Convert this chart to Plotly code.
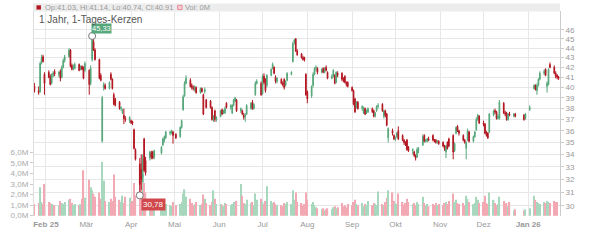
import math
import pandas as pd
import plotly.graph_objects as go

# ---------------- data ----------------
holidays = ["2025-04-18", "2025-04-21", "2025-05-01", "2025-12-24",
            "2025-12-25", "2025-12-26", "2025-12-31", "2026-01-01"]
dates = [d for d in pd.bdate_range("2025-01-24", "2026-01-22")
         if d.strftime("%Y-%m-%d") not in holidays]

opens = [
    40.15,
    39.7, 39.6, 42.5, 43.1, 41.3,
    41.5, 41.1, 40.4, 41.2, 41.6,
    41.3, 41.6, 41.0, 42.0, 42.7,
    43.1, 43.8, 42.2, 41.9, 41.9,
    42.3, 41.8, 42.1, 42.0, 41.7,
    41.7, 40.4, 42.8, 44.7, 43.8,
    42.8, 41.2, 35.1, 40.0, 40.2,
    39.9, 41.3, 40.8, 39.3, 38.9,
    38.6, 38.0, 37.6, 37.4, 37.1,
    36.9, 36.9, 36.8, 36.1, 34.4,
    33.2, 32.8, 32.2, 35.3, 33.5,
    33.7, 34.1, 34.2, 33.8,
    34.1, 34.8, 35.2, 35.4,
    35.8, 35.9, 35.9, 35.7,
    35.5, 36.3, 37.9, 39.2, 40.4,
    40.7, 40.2, 40.0, 39.8, 40.0,
    39.5, 39.9, 39.3, 39.6, 38.8,
    38.7, 38.1, 37.1, 37.8, 37.0,
    37.3, 37.9, 37.6, 37.6, 38.5,
    38.1, 37.6, 38.3, 38.7, 38.8,
    37.8, 37.8, 37.4, 37.3, 37.5,
    38.0, 38.6, 38.0, 39.3, 40.4,
    40.4, 39.4, 41.1, 40.8, 40.2,
    41.2, 41.9, 42.0, 41.0, 40.6,
    40.8, 40.4, 40.8, 40.2, 40.7,
    41.3, 42.6, 44.6, 45.0, 43.7,
    43.4, 43.0, 43.0, 41.3, 39.6,
    39.2, 40.2, 41.3, 41.9, 41.9,
    41.5, 41.9, 41.5, 42.0, 41.5,
    40.9, 41.1, 41.2, 40.5, 41.4,
    41.4, 40.8, 41.1, 40.5, 40.5,
    40.0, 39.7, 38.9, 38.2, 38.6,
    38.0, 37.6, 38.0, 37.6, 37.7,
    38.0, 37.8, 37.3, 37.8, 38.2,
    38.4, 37.3, 37.8, 37.5, 35.4,
    36.0, 35.6, 35.3, 35.5, 36.0,
    35.6, 35.2, 35.0, 35.2, 34.6,
    34.3, 34.2, 33.9, 33.8, 34.4,
    34.8, 35.6, 35.1, 35.1, 35.3,
    35.6, 35.2, 35.2, 35.0, 35.1,
    35.0, 34.7, 34.2, 35.0, 35.3,
    35.6, 34.3, 35.8, 36.4, 36.0,
    35.6, 35.2, 34.5, 35.2, 35.9,
    35.1, 35.5, 36.1, 37.0, 37.3,
    36.7, 36.6, 35.8, 35.8, 35.9,
    37.4, 37.8, 37.7, 37.1, 37.1,
    38.5, 37.6, 37.6, 37.0, 37.5,
    37.3, 37.5,
    37.4, 37.1, 37.9,
    39.9, 40.2, 39.7, 40.2, 40.8,
    41.4, 41.8, 40.1, 40.3, 42.3,
    42.0, 41.4, 41.2, 41.03,
]
highs = [
    40.45,
    40.1, 42.6, 43.3, 43.3, 41.5,
    41.7, 41.3, 41.4, 41.6, 41.8,
    41.6, 41.8, 42.2, 42.9, 43.3,
    44.0, 43.9, 42.4, 42.3, 42.5,
    42.4, 42.2, 42.2, 42.1, 42.6,
    41.8, 42.2, 45.33, 45.0, 44.0,
    42.9, 41.4, 39.2, 40.5, 40.4,
    40.6, 41.5, 40.9, 39.5, 39.0,
    38.7, 38.2, 38.0, 38.0, 37.3,
    37.3, 37.0, 36.9, 36.2, 34.5,
    33.7, 34.0, 34.0, 35.4, 33.8,
    34.3, 34.3, 34.3, 34.4,
    34.7, 35.4, 35.6, 36.0,
    36.0, 36.1, 36.0, 35.8,
    36.4, 37.0, 39.3, 40.6, 41.2,
    40.9, 40.4, 40.2, 40.2, 40.1,
    40.0, 40.0, 39.4, 40.0, 38.9,
    38.8, 38.2, 37.4, 37.9, 37.3,
    37.9, 38.0, 37.9, 38.2, 38.6,
    38.4, 38.4, 38.9, 39.1, 38.9,
    38.1, 37.9, 37.6, 37.6, 38.4,
    38.6, 38.8, 38.5, 40.6, 40.8,
    40.6, 41.3, 41.4, 40.9, 41.3,
    41.9, 42.5, 42.1, 41.2, 41.0,
    40.9, 40.6, 40.9, 40.7, 41.5,
    41.6, 44.7, 45.0, 45.1, 43.9,
    43.5, 43.2, 43.1, 41.4, 39.7,
    40.2, 41.5, 42.0, 42.2, 42.0,
    41.9, 42.0, 42.0, 42.2, 41.6,
    41.3, 41.8, 41.3, 41.6, 41.6,
    41.5, 41.0, 41.2, 40.6, 40.6,
    40.1, 39.8, 39.0, 38.7, 38.7,
    38.3, 38.2, 38.1, 37.9, 38.1,
    38.1, 37.9, 37.7, 38.3, 38.5,
    38.5, 37.9, 37.9, 37.6, 36.3,
    36.2, 35.7, 35.5, 35.9, 36.4,
    35.7, 35.3, 35.1, 35.3, 34.7,
    34.5, 34.3, 34.0, 34.6, 34.6,
    35.7, 35.7, 35.3, 35.4, 35.5,
    35.7, 35.3, 35.3, 35.2, 35.2,
    35.1, 34.8, 34.8, 35.1, 35.4,
    35.7, 35.0, 36.4, 36.5, 36.1,
    35.7, 35.3, 35.1, 36.2, 36.0,
    35.6, 36.0, 37.2, 37.5, 37.4,
    36.9, 36.7, 36.0, 35.9, 37.6,
    37.9, 38.0, 37.8, 37.5, 38.8,
    38.6, 37.8, 37.7, 37.6, 37.7,
    37.6, 37.6,
    37.5, 37.6, 38.3,
    40.3, 40.3, 40.4, 40.9, 41.6,
    41.8, 41.9, 40.6, 41.9, 42.5,
    42.2, 41.6, 41.3, 41.14,
]
lows = [
    39.5,
    39.3, 39.5, 42.3, 42.5, 39.3,
    40.9, 40.2, 40.3, 41.0, 41.1,
    41.0, 40.6, 40.9, 41.9, 42.5,
    43.0, 42.0, 41.7, 41.7, 41.8,
    41.6, 41.7, 41.7, 40.8, 41.5,
    39.3, 40.2, 42.6, 43.7, 42.7,
    40.8, 40.6, 35.0, 39.7, 39.8,
    39.8, 40.7, 39.8, 38.3, 38.2,
    37.9, 37.8, 37.5, 36.6, 36.8,
    36.7, 36.6, 36.5, 34.4, 33.5,
    30.78, 31.2, 31.8, 32.6, 32.3,
    33.5, 33.6, 33.6, 33.6,
    34.0, 34.7, 35.0, 35.3,
    35.6, 35.7, 34.9, 35.3,
    35.4, 36.2, 37.8, 39.1, 40.3,
    40.0, 39.8, 39.7, 39.6, 39.4,
    39.4, 39.5, 37.4, 39.4, 38.0,
    38.0, 36.9, 36.8, 36.8, 36.8,
    37.2, 37.4, 37.5, 37.5, 38.0,
    37.9, 37.5, 38.2, 38.6, 37.7,
    37.6, 37.4, 37.0, 36.8, 37.4,
    37.9, 37.9, 37.9, 39.2, 40.3,
    39.2, 39.3, 40.3, 39.5, 40.0,
    41.1, 41.8, 41.3, 40.4, 40.4,
    40.3, 40.1, 39.8, 40.1, 40.6,
    41.2, 42.5, 44.4, 43.6, 43.2,
    42.9, 42.7, 42.6, 39.2, 38.5,
    39.0, 40.0, 41.2, 41.6, 41.3,
    41.4, 41.4, 41.4, 41.6, 40.8,
    40.8, 41.0, 40.3, 40.4, 41.0,
    40.6, 40.5, 40.4, 40.1, 40.0,
    39.6, 38.3, 37.6, 38.0, 37.9,
    37.8, 37.5, 37.4, 37.5, 37.6,
    37.6, 37.2, 37.2, 37.7, 38.0,
    37.7, 37.1, 37.2, 36.4, 35.0,
    35.6, 35.2, 35.1, 35.4, 35.2,
    35.1, 34.8, 34.7, 34.3, 34.2,
    34.0, 33.8, 33.5, 33.7, 34.1,
    34.7, 35.0, 35.0, 35.0, 35.1,
    35.1, 35.0, 34.9, 34.9, 34.8,
    34.6, 34.3, 33.7, 34.4, 34.6,
    33.6, 34.2, 35.7, 35.9, 35.6,
    35.1, 34.9, 33.6, 35.1, 35.0,
    35.0, 35.4, 36.0, 36.9, 36.6,
    36.4, 35.7, 35.5, 35.3, 35.8,
    37.3, 37.5, 37.0, 37.0, 37.0,
    37.5, 37.3, 36.9, 36.9, 37.3,
    37.2, 37.2,
    36.9, 37.0, 37.8,
    39.8, 39.7, 39.3, 40.1, 40.7,
    41.2, 41.1, 39.5, 40.2, 41.9,
    41.3, 40.9, 40.8, 40.74,
]
closes = [
    39.65,
    39.5, 42.4, 43.0, 42.6, 40.4,
    41.0, 40.3, 41.2, 41.4, 41.3,
    41.5, 40.9, 42.0, 42.7, 43.1,
    43.8, 42.1, 41.8, 42.0, 42.3,
    41.7, 42.1, 41.8, 40.9, 42.4,
    40.3, 41.9, 45.0, 43.8, 42.8,
    40.9, 40.7, 39.0, 40.3, 39.9,
    40.5, 40.8, 39.9, 38.4, 38.3,
    38.0, 38.1, 37.9, 37.1, 37.0,
    37.2, 36.7, 36.7, 34.5, 33.6,
    31.6, 32.0, 33.6, 32.7, 32.5,
    34.2, 33.8, 33.7, 34.3,
    34.6, 35.3, 35.5, 35.9,
    35.9, 36.0, 35.6, 35.4,
    36.3, 36.9, 39.1, 40.4, 40.9,
    40.1, 40.0, 39.9, 40.1, 39.5,
    39.9, 39.6, 37.5, 39.8, 38.1,
    38.1, 37.0, 37.2, 37.0, 37.2,
    37.8, 37.5, 37.8, 38.0, 38.1,
    38.3, 38.3, 38.8, 39.0, 37.8,
    38.0, 37.5, 37.2, 37.4, 38.3,
    38.5, 38.0, 38.4, 40.4, 40.6,
    39.3, 41.1, 40.5, 39.7, 41.2,
    41.8, 42.3, 41.4, 40.6, 40.9,
    40.4, 40.3, 40.0, 40.6, 41.4,
    41.5, 44.5, 44.9, 43.7, 43.3,
    43.0, 42.8, 42.8, 39.3, 38.9,
    40.1, 41.3, 41.9, 42.0, 41.5,
    41.8, 41.5, 41.8, 41.7, 40.9,
    41.1, 41.7, 40.4, 41.5, 41.2,
    40.8, 40.7, 40.5, 40.3, 40.1,
    39.7, 38.4, 37.7, 38.6, 38.0,
    38.2, 38.0, 37.5, 37.8, 38.0,
    37.7, 37.3, 37.6, 38.2, 38.3,
    37.8, 37.8, 37.4, 36.5, 36.2,
    35.8, 35.3, 35.4, 35.8, 35.3,
    35.2, 35.0, 34.8, 34.4, 34.3,
    34.4, 33.9, 33.7, 34.4, 34.5,
    35.5, 35.1, 35.2, 35.3, 35.2,
    35.2, 35.1, 35.0, 35.1, 34.9,
    34.7, 34.5, 34.7, 34.5, 34.7,
    34.2, 34.9, 36.3, 36.0, 35.8,
    35.2, 35.0, 35.0, 36.0, 35.1,
    35.5, 35.9, 37.0, 37.4, 36.7,
    36.6, 35.8, 35.6, 35.4, 37.5,
    37.8, 37.7, 37.1, 37.3, 38.6,
    37.6, 37.5, 37.0, 37.5, 37.4,
    37.5, 37.3,
    37.0, 37.5, 38.1,
    40.2, 39.8, 40.2, 40.8, 41.4,
    41.6, 41.2, 40.4, 41.8, 42.0,
    41.4, 41.1, 41.0, 40.91,
]
volumes_m = [
    1.1,
    1.2, 2.7, 1.3, 1.1, 3.0,
    1.3, 1.2, 1.1, 0.9, 1.0,
    1.0, 1.4, 1.2, 1.1, 1.3,
    1.5, 1.6, 1.2, 1.0, 1.1,
    1.0, 1.1, 1.6, 4.3, 1.7,
    3.4, 2.7, 2.4, 2.1, 1.8,
    2.2, 1.6, 5.1, 3.3, 1.4,
    1.3, 1.6, 1.4, 3.9, 1.8,
    1.5, 1.3, 1.9, 1.2, 1.8,
    1.7, 1.2, 1.4, 3.1, 1.9,
    4.2, 5.0, 3.9, 3.1, 2.2,
    1.3, 1.0, 1.2, 1.1,
    1.0, 1.2, 0.9, 1.1,
    1.0, 0.9, 1.3, 1.0,
    1.1, 1.3, 2.1, 2.5, 1.8,
    1.6, 1.2, 1.0, 1.1, 1.3,
    1.0, 1.1, 2.0, 1.6, 1.2,
    1.0, 1.3, 2.4, 1.6, 1.1,
    1.1, 1.0, 0.9, 1.2, 1.1,
    1.0, 1.1, 1.3, 1.2, 1.4,
    3.0, 1.9, 1.2, 1.1, 1.5,
    1.2, 1.3, 1.0, 2.1, 1.5,
    1.6, 1.3, 1.1, 1.4, 2.8,
    1.4, 1.2, 1.3, 1.1, 1.0,
    1.0, 0.9, 1.2, 1.1, 1.3,
    1.1, 2.4, 1.5, 2.2, 1.3,
    1.2, 1.0, 1.1, 2.2, 1.5,
    1.1, 1.3, 1.0, 0.8, 0.7,
    0.6, 0.7, 0.5, 0.6, 0.7,
    0.6, 0.8, 0.9, 0.7, 0.8,
    1.2, 0.9, 1.0, 0.8, 1.1,
    1.0, 1.3, 1.5, 1.1, 1.0,
    1.2, 0.9, 1.1, 1.0, 1.4,
    1.0, 1.2, 1.1, 1.0, 2.3,
    1.1, 1.0, 1.3, 1.7, 2.4,
    2.2, 1.4, 1.2, 1.1, 2.1,
    1.3, 1.0, 1.2, 1.6, 1.3,
    1.1, 1.2, 1.0, 1.3, 1.1,
    1.8, 1.2, 1.0, 1.1, 0.9,
    1.1, 1.0, 1.2, 1.0, 1.1,
    1.0, 1.2, 1.3, 1.1, 1.4,
    2.1, 1.3, 1.5, 1.2, 1.1,
    1.2, 1.0, 1.9, 1.6, 1.3,
    1.1, 1.2, 1.8, 1.5, 1.2,
    1.3, 1.9, 1.2, 1.1, 2.2,
    1.5, 1.2, 1.0, 1.1, 1.8,
    1.4, 1.0, 1.2, 0.9, 1.3,
    0.5, 0.6,
    0.5, 0.6, 0.7,
    1.9, 1.5, 1.3, 1.2, 1.1,
    1.3, 1.2, 1.4, 1.3, 1.2,
    1.4, 1.3, 1.3, 0.0,
]

month_ticks = ["2025-02-01", "2025-03-01", "2025-04-01", "2025-05-01", "2025-06-01",
               "2025-07-01", "2025-08-01", "2025-09-01", "2025-10-01", "2025-11-01",
               "2025-12-01", "2026-01-01"]
month_labels = ["<b>Feb 25</b>", "Mär", "Apr", "Mai", "Jun", "Jul", "Aug", "Sep",
                "Okt", "Nov", "Dez", "<b>Jan 26</b>"]
price_ticks = [30, 31, 32, 33, 34, 35, 36, 37, 38, 39, 40, 41, 42, 43, 44, 45, 46]
vol_ticks = [0, 1, 2, 3, 4, 5, 6]
vol_labels = ["0,0M", "1,0M", "2,0M", "3,0M", "4,0M", "5,0M", "6,0M"]

n = len(dates)
assert all(len(a) == n for a in (opens, highs, lows, closes, volumes_m)), (n, len(opens), len(highs), len(lows), len(closes), len(volumes_m))

# ---------------- style ----------------
UP = "#55a77a"
DOWN = "#b3141f"
VOL_UP = "#a7d8bd"
VOL_DOWN = "#f3a9b4"
GRID = "#e7e7e7"

W, H = 600, 240
ML, MR, MT, MB = 29, 40, 11, 12
PW, PH = W - ML - MR, H - MT - MB


def px2x(px):
    return (px - ML) / PW


def px2y(py):
    return (H - MB - py) / PH


vol_colors = [VOL_UP if c >= o else VOL_DOWN for o, c in zip(opens, closes)]

hi_i = max(range(n), key=lambda i: highs[i])
lo_i = min(range(n), key=lambda i: lows[i])

fig = go.Figure()
fig.add_trace(go.Bar(
    x=dates, y=volumes_m, marker=dict(color=vol_colors, line=dict(width=0)),
    width=0.9 * 86400000, yaxis="y", hoverinfo="skip"))
fig.add_trace(go.Candlestick(
    x=dates, open=opens, high=highs, low=lows, close=closes, yaxis="y2",
    whiskerwidth=0,
    increasing=dict(line=dict(color=UP, width=1), fillcolor=UP),
    decreasing=dict(line=dict(color=DOWN, width=1), fillcolor=DOWN)))
fig.add_trace(go.Scatter(
    x=[dates[hi_i], dates[lo_i]], y=[highs[hi_i], lows[lo_i]], yaxis="y2",
    mode="markers",
    marker=dict(symbol="circle", size=7, color="white", line=dict(color="#777", width=1))))

fmt = lambda v: f"{v:.2f}".replace(".", ",")

annotations = [
    dict(x=dates[hi_i], y=math.log10(highs[hi_i]), xref="x", yref="y2",
         text=fmt(highs[hi_i]), showarrow=False, xanchor="left", yanchor="bottom",
         xshift=-1, yshift=2, bgcolor=UP, borderpad=0,
         font=dict(size=7.5, color="white")),
    dict(x=dates[lo_i], y=math.log10(lows[lo_i]), xref="x", yref="y2",
         text=fmt(lows[lo_i]), showarrow=False, xanchor="left", yanchor="top",
         xshift=1, yshift=-3, bgcolor="#d0484c", borderpad=1,
         font=dict(size=8, color="white")),
    dict(x=px2x(32), y=px2y(19.5), xref="paper", yref="paper",
         text="1 Jahr, 1-Tages-Kerzen", showarrow=False, xanchor="left", yanchor="middle",
         font=dict(size=10, color="#555")),
    dict(x=px2x(38), y=px2y(7.2), xref="paper", yref="paper",
         text=f"Op:{opens[-1]:.2f}, Hi:{highs[-1]:.2f}, Lo:{lows[-1]:.2f}, Cl:{closes[-1]:.2f}",
         showarrow=False, xanchor="left", yanchor="middle",
         font=dict(size=7.5, color="#999")),
    dict(x=px2x(179), y=px2y(7.2), xref="paper", yref="paper",
         text=f"Vol: {volumes_m[-1]:.0f}M", showarrow=False, xanchor="left", yanchor="middle",
         font=dict(size=7.5, color="#999")),
]

shapes = [
    dict(type="rect", xref="paper", yref="paper", x0=px2x(28), x1=px2x(560),
         y0=px2y(11.5), y1=px2y(3), fillcolor="#ececec", line=dict(width=0)),
    dict(type="rect", xref="paper", yref="paper", x0=px2x(31.5), x1=px2x(36),
         y0=px2y(9.5), y1=px2y(5), fillcolor=DOWN, line=dict(width=0)),
    dict(type="rect", xref="paper", yref="paper", x0=px2x(174), x1=px2x(178.5),
         y0=px2y(9.5), y1=px2y(5), fillcolor="#f8d0d6", line=dict(width=1, color="#e88a98")),
]

p_top = 46 * 10 ** ((31 - MT) / 1004)
p_bot = 46 * 10 ** (-(H - MB - 31) / 1004)

fig.update_layout(
    width=W, height=H, margin=dict(l=ML, r=MR, t=MT, b=MB, pad=0),
    paper_bgcolor="white", plot_bgcolor="white", showlegend=False,
    font=dict(family="Liberation Sans, Arial, sans-serif", size=8, color="#999"),
    xaxis=dict(type="date", range=["2025-01-23 18:00", "2026-01-22 23:00"],
               tickvals=month_ticks, ticktext=month_labels, showgrid=True, gridcolor=GRID,
               gridwidth=1, ticks="", zeroline=False, showline=False,
               rangeslider=dict(visible=False), tickfont=dict(size=8, color="#999"),
               ticklabelstandoff=2),
    yaxis=dict(side="left", range=[-0.03, 19.4], tickvals=vol_ticks, ticktext=vol_labels,
               showgrid=False, zeroline=False, ticks="outside", ticklen=3, tickcolor="#ccc",
               showline=True, linecolor="#ddd", tickfont=dict(size=8, color="#aaa")),
    yaxis2=dict(side="right", overlaying="y", type="log",
                range=[math.log10(p_bot), math.log10(p_top)],
                tickvals=price_ticks, ticktext=[str(t) for t in price_ticks],
                showgrid=True, gridcolor=GRID, zeroline=False, ticks="outside",
                ticklen=3, tickcolor="#ccc", showline=True, linecolor="#ccc",
                tickfont=dict(size=8, color="#999")),
    annotations=annotations, shapes=shapes,
)

fig.write_html("out.html")
